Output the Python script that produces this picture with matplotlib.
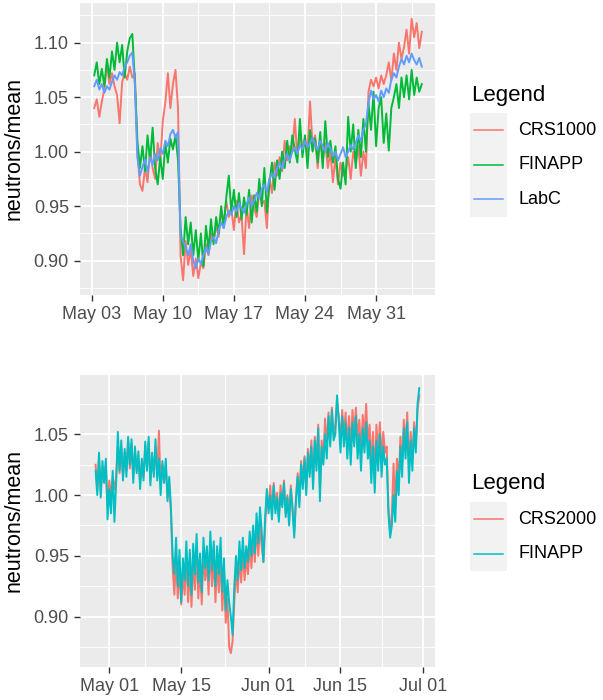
import matplotlib
matplotlib.use('Agg')
import matplotlib.pyplot as plt
import matplotlib.dates as mdates
from matplotlib.ticker import FormatStrFormatter
from matplotlib.patches import Rectangle
from matplotlib.lines import Line2D
import pandas as pd

plt.rcParams['font.family'] = ['Liberation Sans', 'DejaVu Sans']

# ---- top panel data (6-hourly, May 3 06:00 -> Jun 4 12:00) ----
top_time = pd.date_range('2021-05-03 06:00', periods=130, freq='6h')

crs1000 = [
    1.040, 1.048, 1.032,
    1.046, 1.058, 1.080, 1.062,
    1.072, 1.060, 1.052, 1.026,
    1.064, 1.072, 1.066, 1.078,
    1.068, 1.072, 1.000, 0.970,
    0.964, 0.985, 0.972, 1.002,
    0.985, 0.975, 1.008, 0.990,
    1.028, 1.045, 1.072, 1.040,
    1.062, 1.075, 1.040, 0.905,
    0.882, 0.918, 0.896, 0.910,
    0.886, 0.902, 0.884, 0.898,
    0.893, 0.915, 0.905, 0.925,
    0.918, 0.932, 0.922, 0.945,
    0.936, 0.955, 0.940, 0.948,
    0.928, 0.955, 0.935, 0.942,
    0.906, 0.950, 0.930, 0.960,
    0.948, 0.940, 0.965, 0.952,
    0.955, 0.930, 0.975, 0.962,
    0.990, 0.978, 0.995, 0.982,
    1.010, 0.992, 1.005, 1.000,
    1.030, 0.995, 1.018, 1.002,
    1.012, 1.000, 1.046, 1.005,
    1.015, 0.985, 1.012, 0.992,
    1.008, 0.985, 1.000, 0.972,
    0.995, 0.970, 0.990, 0.978,
    0.982, 0.995, 0.975, 1.000,
    0.990, 1.005, 0.978, 1.000,
    0.985, 1.055, 1.066, 1.060,
    1.068, 1.058, 1.070, 1.062,
    1.070, 1.082, 1.065, 1.090,
    1.075, 1.100, 1.085, 1.096,
    1.112, 1.090, 1.122, 1.105,
    1.118, 1.095, 1.110,
]

finapp1 = [
    1.070, 1.082, 1.062,
    1.076, 1.060, 1.085, 1.068,
    1.092, 1.075, 1.100, 1.082,
    1.098, 1.068, 1.092, 1.104,
    1.108, 1.065, 1.010, 0.985,
    1.005, 0.982, 1.015, 0.992,
    1.022, 0.985, 0.970, 0.995,
    0.975, 1.008, 0.990, 1.012,
    1.002, 1.015, 0.992, 0.930,
    0.905, 0.940, 0.915, 0.935,
    0.905, 0.928, 0.900, 0.925,
    0.895, 0.932, 0.910, 0.938,
    0.915, 0.940, 0.925, 0.950,
    0.930, 0.958, 0.978, 0.945,
    0.965, 0.940, 0.962, 0.938,
    0.958, 0.942, 0.965, 0.935,
    0.960, 0.945, 0.975, 0.950,
    0.985, 0.944, 0.972, 0.990,
    0.965, 0.992, 0.975, 1.000,
    0.985, 1.010, 0.990, 1.015,
    1.002, 0.990, 1.030, 0.995,
    1.015, 0.985, 1.020, 1.000,
    1.012, 0.990, 1.018, 0.985,
    1.028, 0.995, 1.010, 0.990,
    1.005, 0.975, 0.966, 0.990,
    0.970, 1.032, 1.000, 1.025,
    0.985, 1.020, 0.995, 1.030,
    1.000, 1.045, 1.020, 1.055,
    1.005, 1.040, 1.050, 1.008,
    1.035, 1.001, 1.040, 1.050,
    1.062, 1.040, 1.068, 1.050,
    1.070, 1.048, 1.075, 1.052,
    1.068, 1.055, 1.062,
]

labc = [
    1.060, 1.066, 1.057,
    1.062, 1.054, 1.060, 1.057,
    1.064, 1.070, 1.066, 1.073,
    1.070, 1.078, 1.082, 1.088,
    1.091, 1.062, 0.995, 0.978,
    0.986, 0.993, 0.981, 0.995,
    0.988, 0.998, 0.992, 1.003,
    0.998, 1.010, 1.005, 1.016,
    1.020, 1.013, 1.018, 0.922,
    0.918, 0.912, 0.905, 0.915,
    0.900, 0.893, 0.902, 0.897,
    0.905, 0.912, 0.906, 0.918,
    0.922, 0.916, 0.928, 0.935,
    0.930, 0.940, 0.946, 0.942,
    0.950, 0.945, 0.953, 0.948,
    0.944, 0.952, 0.958, 0.950,
    0.955, 0.962, 0.957, 0.966,
    0.970, 0.963, 0.975, 0.980,
    0.976, 0.985, 0.990, 0.984,
    0.993, 0.998, 0.992, 1.000,
    1.004, 0.998, 1.006, 1.002,
    1.010, 1.004, 1.008, 1.013,
    1.006, 1.002, 1.010, 1.005,
    1.000, 1.008, 1.003, 0.996,
    1.000, 0.992, 0.998, 1.004,
    0.995, 1.000, 1.006, 1.002,
    1.008, 1.015, 1.010, 1.020,
    1.025, 1.045, 1.056, 1.048,
    1.052, 1.046, 1.056, 1.050,
    1.058, 1.054, 1.066, 1.072,
    1.068, 1.078, 1.085, 1.080,
    1.088, 1.082, 1.090, 1.084,
    1.080, 1.086, 1.078,
]

# ---- bottom panel data (8-hourly, Apr 28 08:00 -> Jun 30 08:00) ----
bot_time = pd.date_range('2021-04-28 08:00', periods=190, freq='8h')

crs2000 = [
    1.025, 1.005,
    1.030, 1.002, 1.022,
    1.012, 1.025, 0.990,
    1.012, 1.000, 1.015,   # May 1
    1.005, 1.015, 1.040,
    1.018, 1.040, 1.015,
    1.035, 1.020, 1.045,
    1.022, 1.042, 1.015,
    1.036, 1.020, 1.030,
    1.010, 1.028, 1.015,
    1.040, 1.022, 1.044,
    1.012, 1.032, 1.018,
    1.040, 1.015, 1.053,
    1.005, 1.025, 1.012,
    1.025, 0.998, 1.010,
    0.985, 0.940, 0.918,
    0.950, 0.915, 0.940,
    0.910, 0.935, 0.918,   # May 15
    0.950, 0.912, 0.940,
    0.908, 0.948, 0.922,
    0.955, 0.915, 0.940,
    0.910, 0.952, 0.930,
    0.945, 0.918, 0.958,
    0.925, 0.950, 0.912,
    0.945, 0.920, 0.950,
    0.905, 0.935, 0.895,
    0.915, 0.875, 0.870,
    0.880, 0.912, 0.940,
    0.920, 0.950, 0.928,
    0.955, 0.930, 0.948,
    0.935, 0.960, 0.940,
    0.965, 0.945, 0.975,
    0.950, 0.975, 0.958,
    0.945, 0.975, 1.000,   # May 31
    0.990, 1.008, 0.985,   # Jun 1
    1.010, 0.990, 1.002,
    0.982, 1.008, 0.992,
    1.012, 0.985, 1.000,
    0.978, 1.008, 0.990,
    0.970, 0.998, 1.018,
    0.995, 1.028, 1.010,
    1.032, 1.005, 1.038,
    1.020, 1.045, 1.010,
    1.048, 1.025, 1.058,
    1.005, 1.045, 1.030,
    1.063, 1.040, 1.068,
    1.045, 1.072, 1.050,
    1.058, 1.078, 1.065,
    1.045, 1.070, 1.050,   # Jun 15
    1.068, 1.040, 1.065,
    1.038, 1.070, 1.050,
    1.072, 1.045, 1.062,
    1.035, 1.066, 1.048,
    1.075, 1.042, 1.058,
    1.025, 1.052, 1.015,
    1.058, 1.032, 1.060,
    1.028, 1.052, 1.035,
    1.040, 0.990, 0.968,
    0.985, 1.026, 0.990,
    1.030, 1.010, 1.048,
    1.025, 1.062, 1.040,
    1.068, 1.020, 1.052,
    1.030, 1.060, 1.040,   # Jun 29
    1.070, 1.082,
]

finapp2 = [
    1.020, 1.000,
    1.035, 0.998, 1.028,
    1.010, 1.030, 0.980,
    1.005, 0.985, 1.020,   # May 1
    0.978, 1.010, 1.052,
    1.020, 1.045, 1.012,
    1.038, 1.015, 1.048,
    1.025, 1.046, 1.010,
    1.040, 1.018, 1.036,
    1.005, 1.030, 1.012,
    1.044, 1.020, 1.048,
    1.008, 1.035, 1.015,
    1.046, 1.012, 1.030,
    1.000, 1.028, 1.010,
    1.030, 0.995, 1.015,
    0.990, 0.950, 0.935,
    0.965, 0.925, 0.955,
    0.912, 0.948, 0.930,   # May 15
    0.962, 0.925, 0.955,
    0.918, 0.960, 0.935,
    0.968, 0.928, 0.952,
    0.920, 0.965, 0.940,
    0.958, 0.930, 0.970,
    0.938, 0.962, 0.925,
    0.958, 0.935, 0.965,
    0.920, 0.948, 0.905,
    0.930, 0.912, 0.900,
    0.885, 0.925, 0.950,
    0.930, 0.962, 0.938,
    0.965, 0.940, 0.958,
    0.945, 0.970, 0.950,
    0.975, 0.952, 0.985,
    0.960, 0.990, 0.970,
    0.945, 0.982, 1.005,   # May 31
    0.985, 1.000, 0.980,   # Jun 1
    1.008, 0.985, 0.998,
    0.978, 1.002, 0.990,
    1.010, 0.982, 0.998,
    0.975, 1.005, 0.988,
    0.965, 0.995, 1.015,
    0.990, 1.025, 1.005,
    1.030, 1.000, 1.035,
    1.015, 1.040, 1.005,
    1.045, 1.020, 1.055,
    0.995, 1.040, 1.025,
    1.050, 1.030, 1.065,
    1.040, 1.070, 1.045,
    1.050, 1.082, 1.060,
    1.035, 1.065, 1.040,   # Jun 15
    1.060, 1.030, 1.055,
    1.025, 1.060, 1.040,
    1.065, 1.030, 1.050,
    1.020, 1.055, 1.035,
    1.060, 1.030, 1.045,
    1.010, 1.040, 1.002,
    1.045, 1.020, 1.050,
    1.015, 1.040, 1.025,
    1.030, 0.985, 0.965,
    0.975, 1.000, 0.978,
    1.020, 1.000, 1.040,
    1.015, 1.055, 1.030,
    1.060, 1.010, 1.045,
    1.020, 1.055, 1.035,   # Jun 29
    1.075, 1.088,
]

top_labels = ['CRS1000', 'FINAPP', 'LabC']
top_colors = ['#F8766D', '#00BA38', '#619CFF']
bot_labels = ['CRS2000', 'FINAPP']
bot_colors = ['#F8766D', '#00BFC4']

top_yticks = [0.90, 0.95, 1.00, 1.05, 1.10]
top_yminor = [0.875, 0.925, 0.975, 1.025, 1.075, 1.125]
bot_yticks = [0.90, 0.95, 1.00, 1.05]
bot_yminor = [0.875, 0.925, 0.975, 1.025, 1.075]

top_xticks = pd.to_datetime(['2021-05-03 00:00', '2021-05-10 00:00', '2021-05-17 00:00',
                             '2021-05-24 00:00', '2021-05-31 00:00'])
top_xminor = pd.to_datetime(['2021-05-06 12:00', '2021-05-13 12:00', '2021-05-20 12:00',
                             '2021-05-27 12:00', '2021-06-03 12:00'])
bot_xticks = pd.to_datetime(['2021-05-01 00:00', '2021-05-15 00:00', '2021-06-01 00:00',
                             '2021-06-15 00:00', '2021-07-01 00:00'])
bot_xminor = pd.to_datetime(['2021-05-08 00:00', '2021-05-23 12:00', '2021-06-08 00:00',
                             '2021-06-23 00:00'])

W, H = 603, 700


def fx(px):
    return px / W


def fy(py):
    return 1 - py / H


fig = plt.figure(figsize=(W / 100, H / 100), dpi=100)
ax1 = fig.add_axes([fx(80), fy(295), (435 - 80) / W, (295 - 3) / H])
ax2 = fig.add_axes([fx(80), fy(667), (435 - 80) / W, (667 - 375) / H])


def style_panel(ax, yticks, yminor, xticks, xminor):
    ax.set_facecolor('#EBEBEB')
    for s in ax.spines.values():
        s.set_visible(False)
    ax.set_yticks(yticks)
    ax.set_yticks(yminor, minor=True)
    ax.set_xticks(xticks)
    ax.set_xticks(xminor, minor=True)
    ax.grid(which='major', color='white', lw=1.3)
    ax.grid(which='minor', color='white', lw=0.65)
    ax.set_axisbelow(True)
    ax.tick_params(which='major', length=4, width=1.0, color='#333333',
                   labelsize=13, labelcolor='#4D4D4D', pad=4)
    ax.tick_params(which='minor', length=0)
    ax.xaxis.set_major_formatter(mdates.DateFormatter('%b %d'))
    ax.yaxis.set_major_formatter(FormatStrFormatter('%.2f'))
    ax.set_ylabel('neutrons/mean', fontsize=15.5, color='black')
    ax.yaxis.set_label_coords((25 - 80) / 355, 0.5)


# top panel
for vals, c in zip([crs1000, finapp1, labc], top_colors):
    ax1.plot(top_time, vals, color=c, lw=1.4)
style_panel(ax1, top_yticks, top_yminor, top_xticks, top_xminor)
may1 = pd.Timestamp('2021-05-01')
ax1.set_xlim(may1 + pd.Timedelta(days=0.85), may1 + pd.Timedelta(days=35.8))
ax1.set_ylim(0.8685, 1.1364)

# bottom panel
for vals, c in zip([crs2000, finapp2], bot_colors):
    ax2.plot(bot_time, vals, color=c, lw=1.4)
style_panel(ax2, bot_yticks, bot_yminor, bot_xticks, bot_xminor)
ax2.set_xlim(may1 - pd.Timedelta(days=5.7), may1 + pd.Timedelta(days=63.4))
ax2.set_ylim(0.8586, 1.0988)


def draw_legend(title, y_title, y_top, labels, colors):
    fig.text(fx(471), fy(y_title), title, fontsize=16, va='center', ha='left')
    row = 34.5
    for i, (lab, c) in enumerate(zip(labels, colors)):
        y0 = y_top + i * row
        fig.add_artist(Rectangle((fx(470), fy(y0 + row)), 37 / W, row / H,
                                 transform=fig.transFigure, facecolor='#F2F2F2',
                                 edgecolor='none'))
        fig.add_artist(Line2D([fx(474), fx(503)], [fy(y0 + row / 2)] * 2,
                              transform=fig.transFigure, color=c, lw=1.1))
        fig.text(fx(518), fy(y0 + row / 2), lab, fontsize=13, va='center', ha='left')


draw_legend('Legend', 96, 113, top_labels, top_colors)
draw_legend('Legend', 484, 502, bot_labels, bot_colors)

fig.savefig('out.png', dpi=100, facecolor='white')
